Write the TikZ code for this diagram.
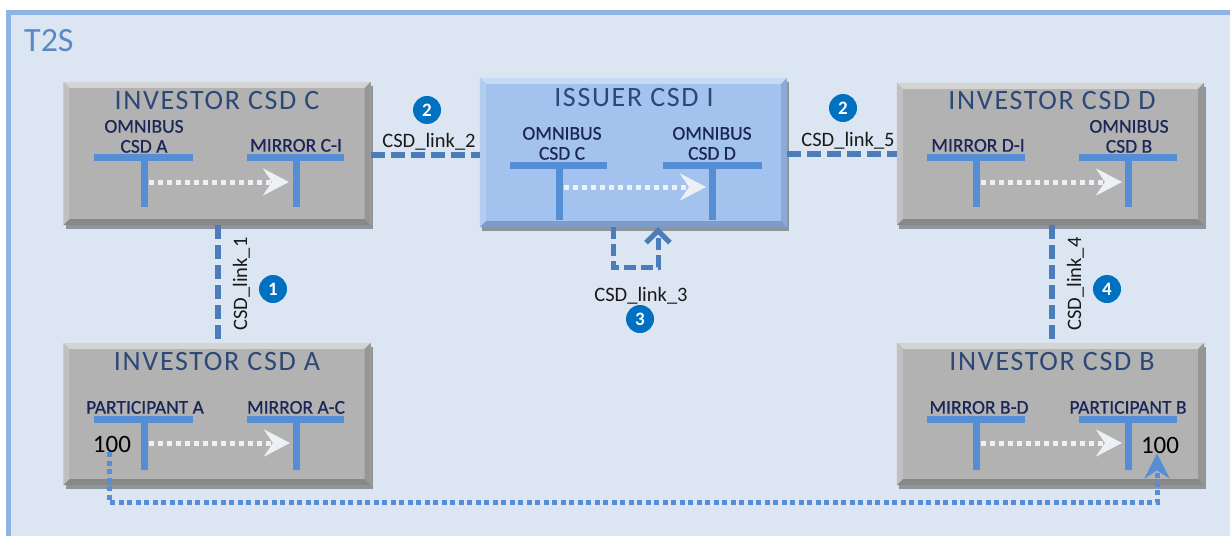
\documentclass[tikz,border=0pt]{standalone}
\usepackage{fontspec}
\setmainfont{Carlito}
\newfontfamily\titlefont[LetterSpace=6]{Carlito}
\newfontfamily\subfont[FakeBold=0.6]{Carlito}
\usetikzlibrary{arrows.meta,calc,shadows}
\definecolor{framefill}{HTML}{DCE6F2}
\definecolor{frameline}{HTML}{8DB4E2}
\definecolor{tstext}{HTML}{5A8AC6}
\definecolor{tbarc}{HTML}{558ED5}
\definecolor{linkc}{HTML}{4A7DBA}
\definecolor{titlec}{HTML}{2C4877}
\definecolor{subc}{HTML}{1B2758}
\definecolor{badgec}{HTML}{0070C0}
\definecolor{gmid}{HTML}{B2B2B2}
\definecolor{gtop}{HTML}{D4D4D4}
\definecolor{gleft}{HTML}{C0C0C0}
\definecolor{gright}{HTML}{969696}
\definecolor{gbot}{HTML}{888888}
\definecolor{bmid}{HTML}{A3C3EE}
\definecolor{btop}{HTML}{C6DAF6}
\definecolor{bleft}{HTML}{B3CDF1}
\definecolor{bright}{HTML}{8AAAD8}
\definecolor{bbot}{HTML}{7C9DCC}
\definecolor{warrc}{HTML}{EDF1F6}
\newcommand{\mybevel}[5]{%
  \fill[#2] (#1.north west) -- (#1.north east) -- ($(#1.north east)+(-6,6)$) -- ($(#1.north west)+(6,6)$) -- cycle;
  \fill[#3] (#1.north west) -- ($(#1.north west)+(6,6)$) -- ($(#1.south west)+(6,-6)$) -- (#1.south west) -- cycle;
  \fill[#4] (#1.north east) -- ($(#1.north east)+(-6,6)$) -- ($(#1.south east)+(-6,-6)$) -- (#1.south east) -- cycle;
  \fill[#5] (#1.south west) -- ($(#1.south west)+(6,-6)$) -- ($(#1.south east)+(-6,-6)$) -- (#1.south east) -- cycle;
}
\newcommand{\mytbar}[5]{%
  \draw[tb] (#1,#3) -- (#2,#3);
  \draw[tb] (#4,#3) -- (#4,#5);
}
\tikzset{
  boxbase/.style={inner sep=0pt, minimum width=307pt, minimum height=142pt,
    drop shadow={shadow xshift=2pt, shadow yshift=-4pt, opacity=.35, fill=black}},
  gbox/.style={boxbase, fill=gmid},
  bbox/.style={boxbase, fill=bmid},
  boxtitle/.style={anchor=base, inner sep=0pt, text=titlec, font=\titlefont\fontsize{28}{32}\selectfont},
  sublbl/.style={anchor=south, inner sep=0pt, align=center, text=subc, font=\subfont\fontsize{19.5}{20}\selectfont},
  tb/.style={draw=tbarc, line width=7pt},
  warr/.style={draw=warrc, line width=5pt, dash pattern=on 5pt off 4pt,
    -{Stealth[length=26pt,width=27pt,inset=9pt]}},
  link/.style={draw=linkc, line width=6pt, dash pattern=on 14pt off 6pt},
  linkthree/.style={draw=linkc, line width=5pt, dash pattern=on 12pt off 5pt,
    -{Straight Barb[length=12pt,width=24pt]}},
  bpath/.style={draw=tbarc, line width=5pt, dash pattern=on 5pt off 3.5pt,
    -{Stealth[length=25pt,width=25pt,inset=8pt]}},
  lbl/.style={inner sep=0pt, text=black!90, font=\fontsize{20.5}{24}\selectfont},
  badge/.style={circle, fill=badgec, minimum size=28pt, inner sep=0pt, text=white, font=\bfseries\fontsize{19}{20}\selectfont},
  amount/.style={inner sep=0pt, text=black, font=\fontsize{25}{28}\selectfont},
}
\begin{document}
\begin{tikzpicture}[x=1pt,y=-1pt]
\useasboundingbox (0,0) rectangle (1230,535);
\fill[white] (0,0) rectangle (1230,535);
% T2S frame
\draw[fill=framefill, draw=frameline, line width=5pt] (8.5,12.5) rectangle (1260,560);
\node[anchor=base west, inner sep=0pt, text=tstext, font=\fontsize{34}{38}\selectfont] (t2s) at (24,52) {T2S};

% boxes
\node[gbox, minimum height=143pt] (C) at (217,153.5) {};
\node[bbox, minimum height=149pt] (I) at (633.5,152.5) {};
\node[gbox] (D) at (1050.5,154) {};
\node[gbox] (A) at (217,414) {};
\node[gbox] (B) at (1050.5,414) {};
\mybevel{C}{gtop}{gleft}{gright}{gbot}
\mybevel{D}{gtop}{gleft}{gright}{gbot}
\mybevel{A}{gtop}{gleft}{gright}{gbot}
\mybevel{B}{gtop}{gleft}{gright}{gbot}
\mybevel{I}{btop}{bleft}{bright}{bbot}

% titles
\node[boxtitle] (Ct) at (217,109) {INVESTOR CSD C};
\node[boxtitle] (It) at (634,106) {ISSUER CSD I};
\node[boxtitle] (Dt) at (1052,109) {INVESTOR CSD D};
\node[boxtitle] (At) at (217,370) {INVESTOR CSD A};
\node[boxtitle] (Bt) at (1052,370) {INVESTOR CSD B};

% sub labels
\node[sublbl] (C1) at (144,153) {OMNIBUS\\CSD A};
\node[sublbl] (C2) at (296,152) {MIRROR C-I};
\node[sublbl] (I1) at (562,160) {OMNIBUS\\CSD C};
\node[sublbl] (I2) at (712,160) {OMNIBUS\\CSD D};
\node[sublbl] (D1) at (978,152) {MIRROR D-I};
\node[sublbl] (D2) at (1129,153) {OMNIBUS\\CSD B};
\node[sublbl] (A1) at (145,414) {PARTICIPANT A};
\node[sublbl] (A2) at (296,414) {MIRROR A-C};
\node[sublbl] (B1) at (979,414) {MIRROR B-D};
\node[sublbl] (B2) at (1128,414) {PARTICIPANT B};

% T bars
\mytbar{94}{193}{157}{144}{207}
\mytbar{247}{344}{157}{296}{207}
\mytbar{510}{607}{165}{559}{220}
\mytbar{663}{762}{165}{712}{220}
\mytbar{927}{1025}{157}{976}{207}
\mytbar{1079}{1177}{157}{1128}{207}
\mytbar{94}{193}{419}{144}{470}
\mytbar{247}{344}{419}{296}{470}
\mytbar{927}{1025}{419}{976}{470}
\mytbar{1079}{1177}{419}{1128}{470}

% amounts
\node[amount] (A100) at (112,444) {100};
\node[amount] (B100) at (1160,445) {100};

% white internal arrows
\draw[warr] (149,182) -- (289,182);
\draw[warr] (564,187) -- (706,187);
\draw[warr] (981,182) -- (1122,182);
\draw[warr] (149,443) -- (290,443);
\draw[warr] (981,443) -- (1122,443);

% links
\draw[link] ([yshift=-1.5pt]C.east) -- ([yshift=-1.5pt]C.east -| I.west);
\draw[link] ([yshift=-1pt]I.east) -- ([yshift=-1pt]I.east -| D.west);
\draw[link] ([xshift=1pt]C.south) -- ([xshift=1pt]A.north);
\draw[link] ([xshift=1.5pt]D.south) -- ([xshift=1.5pt]B.north);
\draw[linkthree] ($(I.south)+(-20.5,0)$) -- ++(0,40) -| ($(I.south)+(24.5,0)$);
\draw[bpath] ([xshift=-3pt]A100.south) -- ++(0,50) -| ([xshift=-3pt]B100.south);

% link labels
\node[lbl, anchor=base] (L2) at (429,147) {CSD\_link\_2};
\node[lbl, anchor=base] (L5) at (848,146) {CSD\_link\_5};
\node[lbl, anchor=base] (L3) at (641,301) {CSD\_link\_3};
\node[lbl, anchor=base, rotate=90] (L1) at (247,284) {CSD\_link\_1};
\node[lbl, anchor=base, rotate=90] (L4) at (1081,284) {CSD\_link\_4};

% badges
\node[badge] (N1) at (273,289) {1};
\node[badge] (N2a) at (427,110) {2};
\node[badge] (N2b) at (843,108) {2};
\node[badge] (N3) at (640,319) {3};
\node[badge] (N4) at (1107,289) {4};
\end{tikzpicture}
\end{document}
